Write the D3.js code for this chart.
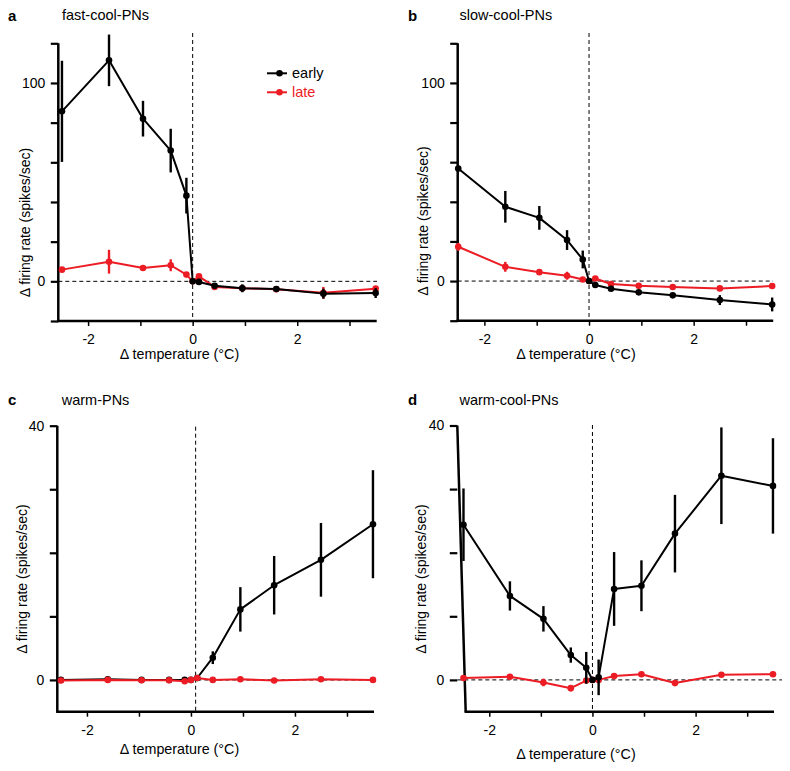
<!DOCTYPE html>
<html><head><meta charset="utf-8">
<script src="https://cdn.jsdelivr.net/npm/d3@7"></script>
<style>
body{margin:0;background:#fff}
text{font-family:"Liberation Sans",Arial,Helvetica,sans-serif}
</style>
</head><body>
<svg id="chart" width="790" height="771"></svg>
<script>
// ---- data ----
const tempX = [-2.5, -1.6, -0.95, -0.42, -0.12, 0, 0.12, 0.42, 0.95, 1.6, 2.5, 3.5];

const fastEarly    = [85.7, 111.4, 82, 65.9, 43.2, 0, -0.3, -2.2, -3.5, -3.9, -6.2, -5.9];
const fastEarlyErr = [25.5, 13, 9, 11, 9, 0, 0.8, 1, 2, 1.5, 2.5, 2.5];
const fastLate     = [5.9, 9.9, 6.7, 8.1, 3.4, 0, 2.5, -2.8, -3.5, -4, -5.8, -3.7];
const fastLateErr  = [1, 6, 1, 3, 1, 0, 1.2, 1, 1, 0.5, 3, 1];

const slowEarly    = [56.8, 37.5, 31.9, 20.7, 10.9, 0, -2, -3.9, -5.7, -7.2, -9.6, -11.8];
const slowEarlyErr = [1.5, 8, 6, 5, 4.5, 0, 1, 1, 1, 1, 2.5, 3.5];
const slowLate     = [17.3, 7.2, 4.5, 2.7, 0.8, 0, 1.3, -1.5, -2.4, -3, -3.7, -2.5];
const slowLateErr  = [2, 2.5, 1, 2, 0.5, 0, 0.5, 0.5, 0.5, 0.5, 0.5, 0.5];

const warmEarly    = [0, 0.1, 0, 0, 0, 0, 0.3, 3.5, 11.1, 14.9, 18.9, 24.5];
const warmEarlyErr = [0, 0, 0, 0, 0, 0, 0.3, 1, 3.5, 4.6, 5.8, 8.5];
const warmLate     = [-0.1, 0, -0.05, -0.05, -0.2, 0, 0.3, 0, 0.1, -0.1, 0.1, 0];
const warmLateErr  = [0.2, 0.2, 0.2, 0.2, 0.2, 0, 0.2, 0.2, 0.2, 0.2, 0.2, 0.2];

const wcEarly    = [24.4, 13.2, 9.6, 3.9, 1.9, 0, 0.4, 14.3, 14.8, 23, 32.1, 30.5];
const wcEarlyErr = [5.7, 2.3, 2, 1.2, 2.5, 0, 2.8, 5.8, 4, 6.1, 7.6, 7.5];
const wcLate     = [0.3, 0.5, -0.4, -1.3, -0.1, 0, 0, 0.6, 0.9, -0.5, 0.8, 0.9];
const wcLateErr  = [0.3, 0.3, 0.6, 0.5, 0.3, 0, 0.3, 0.3, 0.3, 0.3, 0.3, 0.3];

const xTicks = [-2, -1, 0, 1, 2, 3];
const xTickLabels = [-2, 0, 2];
const yTicksTop = [-20, 0, 20, 40, 60, 80, 100, 120];
const yTickLabelsTop = [0, 100];
const yTicksBottom = [0, 10, 20, 30, 40];
const yTickLabelsBottom = [0, 40];

const seriesNames = ["early", "late"];
const xLabel = "\u0394 temperature (\u00B0C)";
const yLabel = "\u0394 firing rate (spikes/sec)";

// ---- layout ----
const BLACK = "#000", RED = "#ec1c24";
const panels = [
  {letter:"a", title:"fast-cool-PNs", early:fastEarly, earlyErr:fastEarlyErr, late:fastLate, lateErr:fastLateErr,
   xDom:[-2.57,3.52], xR:[58.3,376.7], yDom:[-20,120], yR:[321,43.3], yTicks:yTicksTop, yLabels:yTickLabelsTop,
   letterPos:[8,21], titlePos:[62,20], vLineX:0, vTop:33, hEnd:377, yLab:[30,222.5], xLab:[179.5,359], redTop:false, legend:true},
  {letter:"b", title:"slow-cool-PNs", early:slowEarly, earlyErr:slowEarlyErr, late:slowLate, lateErr:slowLateErr,
   xDom:[-2.51,3.52], xR:[457.7,773.2], yDom:[-20,120], yR:[320.7,43.3], yTicks:yTicksTop, yLabels:yTickLabelsTop,
   letterPos:[408,21], titlePos:[459.5,20], vLineX:0, vTop:33, hEnd:773, yLab:[428,221], xLab:[576,359], redTop:false},
  {letter:"c", title:"warm-PNs", early:warmEarly, earlyErr:warmEarlyErr, late:warmLate, lateErr:warmLateErr,
   xDom:[-2.57,3.52], xR:[57.3,374], yDom:[-5,40], yR:[711.7,425.7], yTicks:yTicksBottom, yLabels:yTickLabelsBottom,
   letterPos:[8,405], titlePos:[61.7,405], vLineX:0.09, vTop:426.7, hEnd:374, yLab:[27,579], xLab:[179.5,754], redTop:true},
  {letter:"d", title:"warm-cool-PNs", early:wcEarly, earlyErr:wcEarlyErr, late:wcLate, lateErr:wcLateErr,
   xDom:[-2.62,3.52], xR:[457.3,774], yDom:[-5,40], yR:[711.7,425.5], yTicks:yTicksBottom, yLabels:yTickLabelsBottom,
   letterPos:[408,405], titlePos:[459.5,405], vLineX:0, vTop:425, hEnd:782, yLab:[426,579], xLab:[576,759], redTop:false,
   slantAxis:[465.7]}
];

const svg = d3.select("#chart");

panels.forEach(p => {
  const x = d3.scaleLinear().domain(p.xDom).range(p.xR);
  const y = d3.scaleLinear().domain(p.yDom).range(p.yR);
  const g = svg.append("g");
  const axX = p.xR[0];
  const x0b = p.slantAxis ? p.slantAxis[0] : axX;

  // panel letter + title
  g.append("text").attr("x", p.letterPos[0]).attr("y", p.letterPos[1]).attr("font-size", 15).attr("font-weight", "bold").text(p.letter);
  g.append("text").attr("x", p.titlePos[0]).attr("y", p.titlePos[1]).attr("font-size", 14.5).text(p.title);

  // dashed reference lines
  g.append("line").attr("x1", axX).attr("x2", p.hEnd).attr("y1", y(0)).attr("y2", y(0))
    .attr("stroke", BLACK).attr("stroke-width", 1).attr("stroke-dasharray", "4,3");
  g.append("line").attr("x1", x(p.vLineX)).attr("x2", x(p.vLineX)).attr("y1", p.vTop).attr("y2", p.yR[0])
    .attr("stroke", BLACK).attr("stroke-width", 1).attr("stroke-dasharray", "4,3");

  // axes
  const yAxis = d3.axisLeft(y).tickValues(p.yTicks).tickSize(7.5).tickPadding(5.5)
    .tickFormat(d => p.yLabels.includes(d) ? String(d) : "");
  const yg = g.append("g").attr("transform", `translate(${axX},0)`).call(yAxis);
  yg.selectAll(".tick line").attr("stroke-width", 2.2);
  yg.selectAll("text").attr("font-size", 14).attr("fill", BLACK);
  yg.select(".domain").remove();
  g.append("line").attr("x1", axX).attr("y1", p.yR[1]).attr("x2", x0b).attr("y2", p.yR[0])
    .attr("stroke", BLACK).attr("stroke-width", 2.5);

  const xAxis = d3.axisBottom(x).tickValues(xTicks).tickSize(5).tickPadding(8)
    .tickFormat(d => xTickLabels.includes(d) ? String(d) : "");
  const xg = g.append("g").attr("transform", `translate(0,${p.yR[0]})`).call(xAxis);
  xg.select(".domain").remove();
  xg.selectAll(".tick line").attr("stroke-width", 1.5);
  xg.selectAll("text").attr("font-size", 14).attr("fill", BLACK);
  g.append("line").attr("x1", x0b - 1.2).attr("x2", p.xR[1]).attr("y1", p.yR[0]).attr("y2", p.yR[0])
    .attr("stroke", BLACK).attr("stroke-width", 2.5);

  // axis labels
  g.append("text").attr("x", p.xLab[0]).attr("y", p.xLab[1]).attr("text-anchor", "middle").attr("font-size", 14.3).text(xLabel);
  g.append("text").attr("transform", `translate(${p.yLab[0]},${p.yLab[1]}) rotate(-90)`)
    .attr("text-anchor", "middle").attr("font-size", 14).text(yLabel);

  // series
  const drawSeries = (vals, errs, color) => {
    const data = tempX.map((t, i) => ({t, v: vals[i], e: errs[i]}));
    const s = g.append("g");
    s.selectAll("line.err").data(data.filter(d => d.e > 0)).enter().append("line")
      .attr("x1", d => x(d.t)).attr("x2", d => x(d.t))
      .attr("y1", d => y(d.v - d.e)).attr("y2", d => y(d.v + d.e))
      .attr("stroke", color).attr("stroke-width", 2.4);
    s.append("path").datum(data)
      .attr("d", d3.line().x(d => x(d.t)).y(d => y(d.v)))
      .attr("fill", "none").attr("stroke", color).attr("stroke-width", 2).attr("stroke-linejoin", "round");
    s.selectAll("circle").data(data).enter().append("circle")
      .attr("cx", d => x(d.t)).attr("cy", d => y(d.v)).attr("r", 3.3).attr("fill", color);
  };
  if (p.redTop) {
    drawSeries(p.early, p.earlyErr, BLACK);
    drawSeries(p.late, p.lateErr, RED);
  } else {
    drawSeries(p.late, p.lateErr, RED);
    drawSeries(p.early, p.earlyErr, BLACK);
  }

  // legend
  if (p.legend) {
    const lg = g.append("g");
    [BLACK, RED].forEach((c, i) => {
      const ly = 73.3 + i * 19;
      lg.append("line").attr("x1", 267).attr("x2", 287).attr("y1", ly).attr("y2", ly).attr("stroke", c).attr("stroke-width", 2);
      lg.append("circle").attr("cx", 279.5).attr("cy", ly).attr("r", 3.3).attr("fill", c);
      lg.append("text").attr("x", 292).attr("y", ly + 5).attr("font-size", 14.5).attr("fill", c).text(seriesNames[i]);
    });
  }
});
</script>
</body></html>
